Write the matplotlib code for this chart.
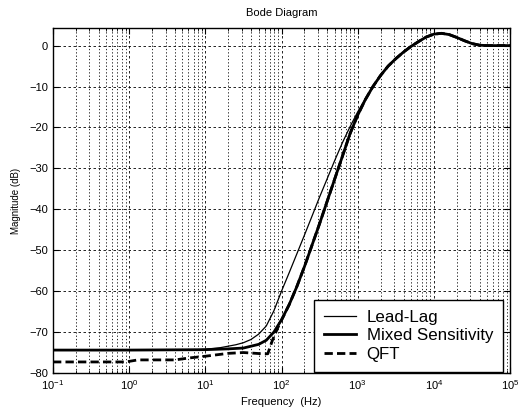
import numpy as np
import matplotlib
matplotlib.use("Agg")
import matplotlib.pyplot as plt
from matplotlib.ticker import LogLocator, FixedLocator, NullFormatter

plt.rcParams['font.family'] = ['Liberation Sans', 'DejaVu Sans']

# Lead-Lag (thin solid)
ll_freq = [0.1, 1, 6.3, 10, 15.8, 25.1, 31.6, 39.8, 50.1, 63.1, 79.4, 100, 126, 158, 200, 251, 316, 398,
           501, 631, 794, 1000, 1259, 1585, 1995, 2512, 3162, 3981, 5012, 6310, 7943, 10000, 12589,
           15849, 19953, 25119, 31623, 39811, 50119, 100000]
ll_db = [-74.4, -74.4, -74.4, -74.2, -73.8, -73.1, -72.6, -71.8, -70.5, -68.5, -64.8, -60.0, -55.5,
         -51.0, -46.3, -41.7, -37.0, -32.5, -28.0, -23.7, -19.8, -16.2, -13.0, -10.0, -7.2, -4.9,
         -3.1, -1.5, -0.1, 1.1, 2.1, 2.8, 3.0, 2.7, 2.0, 1.2, 0.5, 0.1, 0.0, 0.0]

# Mixed Sensitivity (thick solid)
ms_freq = [0.1, 1, 10, 20, 31.6, 50.1, 63.1, 79.4, 100, 126, 158, 200, 251, 316, 398, 501, 631, 794,
           1000, 1259, 1585, 1995, 2512, 3162, 3981, 5012, 6310, 7943, 10000, 12589, 15849, 19953,
           25119, 31623, 39811, 50119, 100000]
ms_db = [-74.4, -74.4, -74.3, -74.1, -73.9, -73.0, -72.0, -70.0, -67.0, -63.3, -59.0, -54.0, -48.8,
         -43.5, -38.0, -32.5, -27.0, -21.5, -17.0, -13.2, -10.0, -7.3, -5.0, -3.2, -1.6, -0.2, 1.0,
         2.1, 2.8, 3.0, 2.7, 2.0, 1.2, 0.5, 0.1, 0.0, 0.0]

# QFT (thick dashed)
qft_freq = [0.1, 0.9, 1.3, 4, 6.3, 10, 20, 31.6, 56, 66, 76, 89, 105, 126, 158, 200, 251, 316, 398,
            501, 631, 794, 1000, 1259, 1585, 1995, 2512, 3162, 3981, 5012, 6310, 7943, 10000, 12589,
            15849, 19953, 25119, 31623, 39811, 50119, 100000]
qft_db = [-77.3, -77.3, -76.8, -76.8, -76.3, -75.9, -75.2, -75.0, -75.3, -75.3, -72.0, -69.0, -66.3,
          -63.3, -59.0, -54.0, -48.8, -43.5, -38.0, -32.5, -27.0, -21.5, -17.0, -13.2, -10.0, -7.3,
          -5.0, -3.2, -1.6, -0.2, 1.0, 2.1, 2.8, 3.0, 2.7, 2.0, 1.2, 0.5, 0.1, 0.0, 0.0]

y_ticks = [-80, -70, -60, -50, -40, -30, -20, -10, 0]
x_ticks = [0.1, 1, 10, 100, 1000, 10000, 100000]

fig = plt.figure(figsize=(5.21, 4.15), dpi=100)
ax = fig.add_axes([0.1017, 0.1012, 0.8773, 0.8313])

ax.semilogx(ll_freq, ll_db, color='black', lw=0.9, label='Lead-Lag')
ax.semilogx(ms_freq, ms_db, color='black', lw=2.0, label='Mixed Sensitivity')
ax.semilogx(qft_freq, qft_db, color='black', lw=2.0, ls=(0, (3, 1.5)), label='QFT')

ax.set_xlim(0.1, 1e5)
ax.set_ylim(-80, 4.3)
ax.yaxis.set_major_locator(FixedLocator(y_ticks))
ax.xaxis.set_major_locator(FixedLocator(x_ticks))
ax.xaxis.set_minor_locator(LogLocator(base=10, subs=np.arange(2, 10)))
ax.xaxis.set_minor_formatter(NullFormatter())

ax.grid(True, which='major', axis='both', color='black', lw=0.6, ls=(0, (3, 3)))
ax.grid(True, which='minor', axis='x', color='black', lw=0.6, ls=(0, (1.5, 2.5)))
ax.set_axisbelow(True)

ax.tick_params(direction='in', which='both', top=True, right=True, labelsize=8)
ax.tick_params(which='major', length=4)
ax.tick_params(which='minor', length=2)
for s in ax.spines.values():
    s.set_linewidth(1.0)

ax.set_title('Bode Diagram', fontsize=8, pad=9)
ax.set_xlabel('Frequency  (Hz)', fontsize=8, labelpad=4)
ax.set_ylabel('Magnitude (dB)', fontsize=7, labelpad=6)

leg = ax.legend(loc='lower right', bbox_to_anchor=(0.985, 0.003), fontsize=12.2, frameon=True,
                fancybox=False, edgecolor='black', borderaxespad=0.0, handlelength=1.9,
                handletextpad=0.6, borderpad=0.6, labelspacing=0.2)
leg.get_frame().set_linewidth(1.0)
leg.get_frame().set_alpha(1)

fig.savefig('out.png', dpi=100)
